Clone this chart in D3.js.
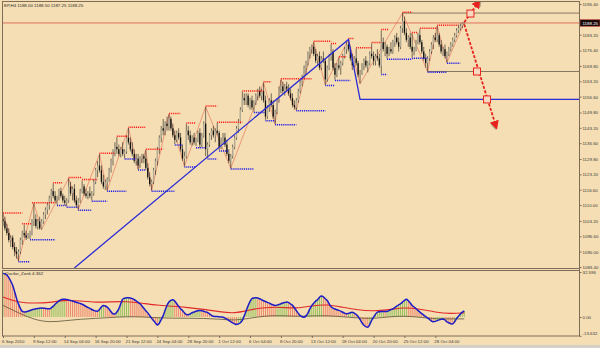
<html>
<head>
<script src="https://d3js.org/d3.v7.min.js"></script>
<style>
  body { margin: 0; background: #f5deb3; }
  text { font-family: "Liberation Sans", Arial, sans-serif; }
</style>
</head>
<body>
<svg id="chart" width="600" height="348"></svg>
<script>
// EP,H4 bars: [open, high, low, close]
const bars = [
  [1104,1106.3,1101,1103],[1103,1105,1099,1100],[1100,1102,1097,1098],[1098,1100,1094,1095],[1095,1097,1092,1096],
  [1096,1097,1091,1092],[1092,1094,1088,1090],[1090,1092,1087,1089],[1089,1091,1086,1090],[1090,1096,1089,1095],
  [1095,1099,1093,1098],[1098,1101.6,1096,1097],[1097,1099,1095,1096],[1096,1098,1095.5,1097],[1097,1099,1095.5,1098],
  [1098,1104,1097,1103],[1103,1110.7,1101,1104],[1104,1106,1100,1101],[1101,1104,1099.5,1103],[1103,1105,1099.5,1100],
  [1100,1104,1099.5,1103],[1103,1107,1102,1106],[1106,1109,1104,1108],[1108,1111,1106,1110],[1110,1114,1108,1113],
  [1113,1117,1111,1116],[1116,1119.3,1113,1114],[1114,1116,1111,1112],[1112,1114,1110.2,1113],[1113,1117,1112,1116],
  [1116,1117.5,1113,1114],[1114,1115,1111,1112],[1112,1114,1110,1111],[1111,1113,1109.4,1112],[1112,1121.5,1111,1118],
  [1118,1120,1114,1115],[1115,1118,1112,1117],[1117,1119,1111,1112],[1112,1114,1109,1110],[1110,1113,1108.1,1112],
  [1112,1117,1111,1116],[1116,1120.6,1115,1118],[1118,1119,1114,1115],[1115,1117,1113,1114],[1114,1116,1112.5,1115],
  [1115,1118,1113,1114],[1114,1116,1112,1115],[1115,1121,1114,1120],[1120,1126,1119,1125],[1125,1129,1122,1127],
  [1127,1131.9,1124,1125],[1125,1127,1119,1120],[1120,1123,1117,1118],[1118,1121,1116.5,1120],[1120,1122,1116.3,1121],
  [1121,1126,1120,1125],[1125,1130,1124,1129],[1129,1134,1127,1133],[1133,1137,1131,1135],[1135,1139.2,1132,1134],
  [1134,1136,1131,1132],[1132,1135,1130.5,1134],[1134,1137,1131,1132],[1132,1134,1130.1,1133],[1133,1140,1132,1139],
  [1139,1143.1,1136,1137],[1137,1139,1133,1134],[1134,1137,1131,1132],[1132,1134,1128,1129],[1129,1132,1127,1130],
  [1130,1132,1125.4,1127],[1127,1131,1126,1130],[1130,1132,1128,1131],[1131,1132,1128,1130],[1130,1133.6,1125,1126],
  [1126,1128,1121,1122],[1122,1124,1118,1119],[1119,1121,1116.3,1120],[1120,1126,1119,1125],[1125,1130,1123,1129],
  [1129,1135,1127,1134],[1134,1140,1132,1139],[1139,1144,1137,1143],[1143,1147,1140,1142],[1142,1146,1140,1145],
  [1145,1148,1142,1144],[1144,1149,1142,1147],[1147,1148,1142,1143],[1143,1145,1139,1140],[1140,1142,1136.2,1138],
  [1138,1142,1137,1141],[1141,1143,1138,1139],[1139,1141,1133,1134],[1134,1136,1129,1130],[1130,1133,1126.7,1131],
  [1131,1144.9,1130,1142],[1142,1144,1138,1140],[1140,1142,1136,1137],[1137,1140,1135.5,1139],[1139,1141,1136,1137],
  [1137,1139,1135.4,1138],[1138,1142,1137,1141],[1141,1143,1134.5,1136],[1136,1141,1135,1140],[1140,1146,1139,1145],
  [1145,1152.2,1131,1134],[1134,1137,1130.2,1136],[1136,1141,1135,1140],[1140,1143,1138,1142],[1142,1144,1139,1140],
  [1140,1143,1137,1142],[1142,1145.3,1140,1141],[1141,1142,1133.6,1135],[1135,1139,1134,1138],[1138,1141,1136,1139],
  [1139,1141,1135,1136],[1136,1138,1131,1132],[1132,1134,1128,1129],[1129,1132,1125.8,1131],[1131,1136,1130,1135],
  [1135,1140,1134,1139],[1139,1144,1138,1143],[1143,1147,1141,1146],[1146,1152,1145,1151],[1151,1158.7,1150,1156],
  [1156,1158,1153,1155],[1155,1158,1153,1157],[1157,1158,1152,1153],[1153,1156,1151,1155],[1155,1157,1151,1152],
  [1152,1155,1150.1,1154],[1154,1158,1153,1157],[1157,1160,1155,1159],[1159,1161,1156,1157],[1157,1160,1155,1159],
  [1159,1162.6,1154,1155],[1155,1157,1146.6,1148],[1148,1153,1147,1152],[1152,1156,1150,1155],[1155,1158,1152,1153],
  [1153,1155,1147,1148],[1148,1151,1144.9,1150],[1150,1156,1149,1155],[1155,1161,1154,1160],[1160,1163.9,1158,1161],
  [1161,1163,1158,1159],[1159,1162,1157,1161],[1161,1163,1159,1160],[1160,1162,1157,1158],[1158,1160,1155,1156],
  [1156,1158,1152,1153],[1153,1155,1151,1152],[1152,1156,1150.9,1155],[1155,1160,1154,1159],[1159,1164,1158,1163],
  [1163,1166,1161,1165],[1165,1170,1164,1169],[1169,1172,1166,1171],[1171,1176,1170,1175],[1175,1178,1173,1177],
  [1177,1179,1175,1178],[1178,1180,1174,1175],[1175,1177,1171,1172],[1172,1175,1170,1174],[1174,1176,1168,1169],
  [1169,1174,1168,1173],[1173,1176,1171,1172],[1172,1173,1161.7,1164],[1164,1170,1163,1169],[1169,1175,1168,1174],
  [1174,1179.1,1172,1176],[1176,1177,1168,1169],[1169,1171,1163.9,1166],[1166,1171,1165,1170],[1170,1173.4,1168,1169],
  [1169,1172,1166,1171],[1171,1175,1170,1174],[1174,1178,1173,1177],[1177,1180,1175,1179],[1179,1181.2,1176,1177],
  [1177,1178,1172,1173],[1173,1175,1168,1170],[1170,1174,1169,1173],[1173,1177.3,1170,1171],[1171,1172,1165,1166],
  [1166,1168,1162.2,1167],[1167,1171,1166,1170],[1170,1173,1168,1172],[1172,1174,1169,1170],[1170,1172,1167,1171],
  [1171,1176,1170,1175],[1175,1179.5,1173,1174],[1174,1176,1170,1172],[1172,1175,1170,1174],[1174,1177,1172,1173],
  [1173,1175,1169,1170],[1170,1185.1,1166.5,1180],[1180,1182,1176,1177],[1177,1180,1174,1178],[1178,1179,1173,1175],
  [1175,1178,1174,1177],[1177,1180,1175,1176],[1176,1181,1175,1180],[1180,1183,1178,1182],[1182,1184,1179,1180],
  [1180,1182,1176,1178],[1178,1187,1177,1186],[1186,1192.5,1184,1189],[1189,1191,1183,1184],[1184,1186,1180,1181],
  [1181,1183,1178,1182],[1182,1184,1177,1178],[1178,1183.8,1173.4,1176],[1176,1178,1174.3,1177],[1177,1181,1176,1180],
  [1180,1184,1179,1183],[1183,1185.6,1179,1180],[1180,1181,1175,1176],[1176,1178,1172,1173],[1173,1175,1169,1171],
  [1171,1174,1167.4,1173],[1173,1177,1172,1176],[1176,1180,1175,1179],[1179,1183,1177,1182],[1182,1184,1180,1181],
  [1181,1186.9,1180,1183],[1183,1184,1178,1179],[1179,1181,1175,1176],[1176,1178,1174,1177],[1177,1179,1173,1174],
  [1174,1176,1171.3,1175],[1175,1178,1174,1177],[1177,1180,1176,1179],[1179,1182,1178,1181],[1181,1184,1180,1183],
  [1183,1186,1182,1185],[1185,1187.5,1184,1186],[1186,1188,1185,1187],[1187,1188.5,1186,1188],[1188,1188.5,1187.25,1188.25]
];

const priceTicks = [1196.40, 1183.20, 1176.40, 1169.80, 1163.20, 1156.60, 1149.80, 1143.20, 1136.60,
  1129.80, 1123.20, 1116.60, 1110.00, 1103.20, 1096.60, 1090.00, 1083.40];
const lastPrice = 1188.25;

const dateLabels = ["6 Sep 2010", "9 Sep 12:00", "14 Sep 04:00", "16 Sep 20:00", "21 Sep 12:00", "24 Sep 04:00",
  "28 Sep 20:00", "1 Oct 12:00", "6 Oct 04:00", "8 Oct 20:00", "13 Oct 12:00", "18 Oct 04:00",
  "20 Oct 20:00", "25 Oct 12:00", "28 Oct 04:00"];
const dateBars = [0, 16, 32, 48, 64, 80, 96, 112, 128, 144, 160, 176, 192, 208, 224];

// fractal levels: [fromBar, toBar, price]
const redDots = [[0,10,1106.3],[10,15,1101.6],[15,27,1110.7],[26,31,1119.3],[34,41,1121.5],[41,49,1120.6],
  [50,58,1131.9],[59,65,1139.2],[65,74,1143.1],[74,83,1133.6],[86,92,1149],[95,100,1144.9],[105,111,1152.2],
  [111,124,1145.3],[124,135,1158.7],[135,139,1162.6],[144,160,1163.9],[161,170,1180],[170,173,1179.1],
  [174,178,1173.4],[179,182,1181.2],[183,191,1177.3],[191,196,1179.5],[196,200,1185.1],[207,212,1192.5],
  [212,215,1183.8],[216,225,1185.6],[225,236,1186.9]];
const blueDots = [[8,14,1086],[14,27,1095.5],[28,33,1110.2],[33,39,1109.4],[39,46,1108.1],[46,54,1112],
  [54,64,1116.3],[63,69,1130.1],[70,74,1125.4],[77,89,1116.3],[89,93,1136.2],[94,100,1126.7],[100,105,1135],
  [106,111,1130.2],[112,117,1133.6],[118,130,1125.8],[130,136,1150.1],[136,141,1146.6],[141,152,1144.9],
  [152,167,1150.9],[167,172,1161.7],[172,180,1163.9],[196,199,1166.5],[199,212,1173],[212,220,1173.4],
  [220,230,1167.4],[230,237,1171.3]];

const zigzag = [[0,1106.3],[8,1086],[16,1110.7],[20,1099.5],[34,1121.5],[39,1108.1],[50,1131.9],[54,1116.3],
  [65,1143.1],[70,1125.4],[74,1133.6],[77,1116.3],[86,1149],[94,1126.7],[105,1152.2],[118,1125.8],[135,1162.6],
  [141,1144.9],[144,1163.9],[152,1150.9],[161,1180],[167,1161.7],[179,1181.2],[185,1162.2],[207,1192.5],
  [220,1167.4],[225,1186.9],[230,1171.3],[239,1188.5]];

const trendLine = [[37,1083],[179,1181.2],[185,1155.4],[300,1155.4]];
const levelLines = [[207,1192.5],[220,1167.4]];
const arrowUp = [[239,1188.6],[245.5,1196.2]];
const arrowDown = [[239,1187.6],[255,1145]];
const arrowBoxes = [[242.2,1192.3],[245.6,1167.4],[250.8,1155.4]];

// Oscilor_Zonk
const oscBlue = [
  31.6,31.2,30.4,28.5,26,23,18.5,13.5,9.5,6.2, 4,3.6,3.8,4.2,4.7,5.2,5.6,5.9,6.2,6.4,
  6.5,6.4,6.2,6.0,5.9,6.6,7.8,9.2,10.5,11.6, 12.5,12.9,12.9,12.7,12.4,12,11.6,11.1,10.7,10.2,
  9.8,9.2,8.5,7.7,6.9,6.2,5.4,4.8,4.3,4.2, 5.5,7.2,8.4,8.0,7.1,5.6,3.8,2.3,2.2,3.6,
  5.9,9.5,12.8,13.6,14,14,13.7,13.3,12.5,11.6, 10.6,9.6,8.0,6.3,4.5,3.0,1.0,-1.0,-2.6,-4.3,
  -5.8,-4.5,-1.8,1,4.8,8.5,10.8,12,12.5,11.5, 9.6,7.8,6.0,4.7,3.0,1.8,1.6,2.3,3.1,3.6,
  4.1,4.5,4.7,4.6,4.1,3.7,3.2,2.2,1.2,0.5, 0.3,0.3,0.1,0,-0.2,-0.8,-1.6,-2.5,-3.4,-4.3,
  -5,-5.4,-5.0,-4.2,-2.5,0.8,4.5,8.2,11.2,13.3, 13.8,14,13.8,13.2,12.5,11.8,11.2,10.6,10,9.2,
  8.7,8.4,8.6,9.0,9.6,10.1,10.5,10.8,10.4,9.4, 8.4,6.6,4.6,2.6,1,0.2,-0.2,0.8,2.8,5.9,
  8.2,10,11.5,12.5,14.3,15.2,14.6,13.2,12,9.5, 7.5,6.4,5.8,5.2,4.8,4.2,3.4,2.8,2.3,2.6,
  3.1,3.5,2.8,1.8,0.4,-1.8,-4.2,-6,-7.0,-7.5, -5.5,-2.5,-0.2,2,3.5,3.8,4,4,3.9,4,
  4.6,5.3,5.9,6.8,7.8,8.8,9.6,10.8,12,12.8, 11.8,10.2,8.4,7.2,6,4.8,3.5,2.4,1.3,0.3,
  -0.6,-1.8,-3,-3.4,-3.2,-2.6,-2.1,-1.6,-1.4,-2.2, -3.5,-4.2,-4.9,-5,-3.5,-1.2,0.6,2.2,3.5,4.362
];
const oscSlowBars = [0,8,16,24,32,40,48,56,64,72,80,88,96,104,112,120,128,136,144,152,160,168,176,184,192,200,208,216,224,232,239];
const oscRed = [14.5,10.5,10,10.3,12.3,11.6,10.5,11,11.3,10,8.5,7.8,6.8,5.6,3.8,2.5,5.2,7,7.1,6.1,8.2,9.2,7,5,4.3,5.2,7,5.8,3.4,2.3,3.0];
const oscBrown = [8.4,3,-1.9,-3.9,-2.7,-1.6,-1,-0.4,0.3,0.1,-0.6,-0.9,-0.9,-1,-1.5,-2.6,-0.9,0.9,1,0.4,0.8,1,0.2,-0.8,-1.2,0.2,0.8,-0.2,-1.4,-1.4,-1.4];
const oscTicks = [32.596, 0, -13.632];
const oscTickLabels = ["32.596", "0.00", "-13.632"];

const svg = d3.select("#chart");
const W = 600, H = 348;
const left = 2, right = 580, mainTop = 1, mainBottom = 268, subTop = 270, subBottom = 336;
const frame = "#7d6d58";

svg.append("rect").attr("width", W).attr("height", H).attr("fill", "#f5deb3");

const x = d3.scaleLinear().domain([0, 280]).range([3, 543.4]);
const y = d3.scaleLinear().domain([1083.4, 1196.4]).range([267, 4]);
const sy = d3.scaleLinear().domain([-13.632, 32.596]).range([335.8, 272]);

const defs = svg.append("defs");
defs.append("clipPath").attr("id", "clipMain").append("rect")
  .attr("x", left).attr("y", mainTop).attr("width", right - left).attr("height", mainBottom - mainTop);
defs.append("clipPath").attr("id", "clipSub").append("rect")
  .attr("x", left).attr("y", subTop).attr("width", right - left).attr("height", subBottom - subTop);

const main = svg.append("g").attr("clip-path", "url(#clipMain)");

// bid line
main.append("line").attr("x1", left).attr("x2", right).attr("y1", y(lastPrice)).attr("y2", y(lastPrice))
  .attr("stroke", "#d9534a").attr("stroke-width", 0.8);

// horizontal levels
main.selectAll("line.level").data(levelLines).join("line").attr("class", "level")
  .attr("x1", d => x(d[0])).attr("x2", right).attr("y1", d => y(d[1])).attr("y2", d => y(d[1]))
  .attr("stroke", "#6a5c4a").attr("stroke-width", 0.8);

// zigzag
const lineP = d3.line().x(d => x(d[0])).y(d => y(d[1]));
main.append("path").datum(zigzag).attr("d", lineP).attr("fill", "none")
  .attr("stroke", "#e4674f").attr("stroke-width", 0.6);

// candles
const cw = 1.3;
const candle = main.append("g").selectAll("g").data(bars).join("g");
candle.append("line").attr("x1", (d, i) => x(i)).attr("x2", (d, i) => x(i))
  .attr("y1", d => y(d[1])).attr("y2", d => y(d[2])).attr("stroke", "#1a1a1a").attr("stroke-width", 0.6);
candle.append("rect").attr("x", (d, i) => x(i) - cw / 2).attr("width", cw)
  .attr("y", d => y(Math.max(d[0], d[3])))
  .attr("height", d => Math.max(0.6, Math.abs(y(d[0]) - y(d[3]))))
  .attr("fill", d => d[3] >= d[0] ? "#b3ad98" : "#111");

// fractal dots
main.selectAll("line.rdot").data(redDots).join("line").attr("class", "rdot")
  .attr("x1", d => x(d[0])).attr("x2", d => x(d[1])).attr("y1", d => y(d[2]) - 0.8).attr("y2", d => y(d[2]) - 0.8)
  .attr("stroke", "#ff1010").attr("stroke-width", 1.5).attr("stroke-dasharray", "1,0.9");
main.selectAll("line.bdot").data(blueDots).join("line").attr("class", "bdot")
  .attr("x1", d => x(d[0])).attr("x2", d => x(d[1])).attr("y1", d => y(d[2]) + 0.8).attr("y2", d => y(d[2]) + 0.8)
  .attr("stroke", "#1010ee").attr("stroke-width", 1.5).attr("stroke-dasharray", "1,0.9");

// trend line
main.append("path").datum(trendLine).attr("d", lineP).attr("fill", "none")
  .attr("stroke", "#2b2bd6").attr("stroke-width", 1.3);

// forecast arrows
const mk = defs.append("marker").attr("id", "arrowHead").attr("viewBox", "0 0 10 10")
  .attr("refX", 3).attr("refY", 5).attr("markerWidth", 5).attr("markerHeight", 5)
  .attr("markerUnits", "strokeWidth").attr("orient", "auto");
mk.append("path").attr("d", "M1,1.5 L10,6.5 L1,11 Z").attr("fill", "#8a7a62").attr("opacity", 0.6);
mk.append("path").attr("d", "M0,0 L10,5 L0,10 Z").attr("fill", "#e8231e");
[arrowUp, arrowDown].forEach(a => {
  main.append("path").datum(a).attr("d", lineP).attr("fill", "none")
    .attr("stroke", "#e8231e").attr("stroke-width", 1.8).attr("stroke-dasharray", "3,1.6")
    .attr("marker-end", "url(#arrowHead)");
});
main.selectAll("rect.box").data(arrowBoxes).join("rect").attr("class", "box")
  .attr("x", d => x(d[0]) - 3.5).attr("y", d => y(d[1]) - 3.5).attr("width", 7).attr("height", 7)
  .attr("fill", "#f7d9c0").attr("stroke", "#e8231e").attr("stroke-width", 1);

// oscillator panel
const sub = svg.append("g").attr("clip-path", "url(#clipSub)");
sub.selectAll("line.hist").data(oscBlue).join("line").attr("class", "hist")
  .attr("x1", (d, i) => x(i)).attr("x2", (d, i) => x(i))
  .attr("y1", sy(0)).attr("y2", d => sy(d))
  .attr("stroke", (d, i) => i > 0 && d < oscBlue[i - 1] ? "#ee8a6e" : "#96c15e")
  .attr("stroke-width", 1);
const slowLine = d3.line().x((d, k) => x(oscSlowBars[k])).y(d => sy(d)).curve(d3.curveBasis);
sub.append("path").datum(oscBrown).attr("d", slowLine).attr("fill", "none")
  .attr("stroke", "#5b5538").attr("stroke-width", 0.8);
sub.append("path").datum(oscRed).attr("d", slowLine).attr("fill", "none")
  .attr("stroke", "#e02a2a").attr("stroke-width", 1.1);
sub.append("path").datum(oscBlue)
  .attr("d", d3.line().x((d, i) => x(i)).y(d => sy(d)).curve(d3.curveMonotoneX))
  .attr("fill", "none").attr("stroke", "#1c1cc8").attr("stroke-width", 1.5);

// frames
svg.append("rect").attr("x", left + 0.5).attr("y", mainTop + 0.5).attr("width", right - left - 1)
  .attr("height", mainBottom - mainTop).attr("fill", "none").attr("stroke", frame).attr("stroke-width", 1);
svg.append("rect").attr("x", left + 0.5).attr("y", subTop + 0.5).attr("width", right - left - 1)
  .attr("height", subBottom - subTop - 0.5).attr("fill", "none").attr("stroke", frame).attr("stroke-width", 1);

// price axis
const fontSize = 4.4;
const pAxis = svg.append("g").attr("transform", `translate(${right - 0.5},0)`)
  .call(d3.axisRight(y).tickValues(priceTicks).tickSize(2).tickPadding(1).tickFormat(d3.format(".2f")));
pAxis.select(".domain").remove();
pAxis.selectAll("line").attr("stroke", frame);
pAxis.selectAll("text").attr("font-size", fontSize).attr("fill", "#3a3a3a").attr("font-family", "Liberation Sans");

// last price tag
svg.append("rect").attr("x", right).attr("y", y(lastPrice) - 3.4).attr("width", 20).attr("height", 6.8)
  .attr("fill", "#1a0a0a").attr("stroke", "#d9534a").attr("stroke-width", 0.6);
svg.append("text").attr("x", right + 2.5).attr("y", y(lastPrice)).attr("dy", "0.35em")
  .attr("font-size", fontSize).attr("fill", "#ffffff").text(d3.format(".2f")(lastPrice));

// oscillator axis
const oAxis = svg.append("g").attr("transform", `translate(${right - 0.5},0)`)
  .call(d3.axisRight(sy).tickValues(oscTicks).tickSize(2).tickPadding(1).tickFormat((d, k) => oscTickLabels[k]));
oAxis.select(".domain").remove();
oAxis.selectAll("line").attr("stroke", frame);
oAxis.selectAll("text").attr("font-size", fontSize).attr("fill", "#3a3a3a");
oAxis.selectAll(".tick").filter(d => d === -13.632).select("text").attr("y", -3);

// axis vertical line
svg.append("line").attr("x1", right - 0.5).attr("x2", right - 0.5).attr("y1", mainTop).attr("y2", subBottom)
  .attr("stroke", frame).attr("stroke-width", 1);

// time axis
const tAxis = svg.append("g").attr("transform", `translate(0,${subBottom})`)
  .call(d3.axisBottom(x).tickValues(dateBars).tickSize(2).tickPadding(1.5).tickFormat((d, k) => dateLabels[k]));
tAxis.select(".domain").remove();
tAxis.selectAll("line").attr("stroke", frame);
tAxis.selectAll("text").attr("font-size", fontSize).attr("fill", "#3a3a3a")
  .attr("text-anchor", "start").attr("dx", -1.5);

// titles
svg.append("text").attr("x", 4).attr("y", 5.5).attr("dy", "0.35em").attr("font-size", fontSize)
  .attr("fill", "#2a2a2a").text("EP,H4  1188.00 1188.50 1187.25 1188.25");
svg.append("text").attr("x", 5).attr("y", 273.5).attr("dy", "0.35em").attr("font-size", fontSize)
  .attr("fill", "#2a2a2a").text("Oscilor_Zonk 4.362");

// bottom strip
svg.append("rect").attr("x", 0).attr("y", 345).attr("width", W).attr("height", 3).attr("fill", "#d4d0c8");
</script>
</body>
</html>
